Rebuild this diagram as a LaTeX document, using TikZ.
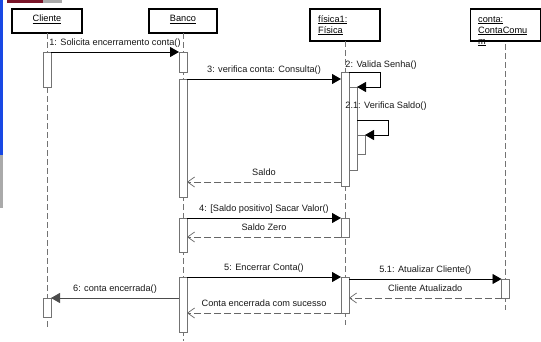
\documentclass[tikz,border=0pt]{standalone}
\usepackage{fontspec}
\setmainfont{Liberation Sans}
\usetikzlibrary{arrows.meta}
\definecolor{slideblue}{RGB}{24,72,228}
\definecolor{slidered}{RGB}{122,20,40}
\definecolor{slidegray}{RGB}{170,170,170}
\begin{document}
\begin{tikzpicture}[x=1pt,y=-1pt,
  font=\fontsize{9.2}{10}\selectfont,
  obj/.style={draw=black, line width=1.6pt, fill=white, inner sep=0pt, outer sep=0pt},
  act/.style={draw=black!55, fill=white, line width=0.9pt, minimum width=8pt, inner sep=0pt, outer sep=0pt},
  life/.style={draw=black!55, line width=1pt, dash pattern=on 6pt off 3pt},
  call/.style={draw=black, line width=0.9pt, -{Triangle[length=9pt,width=10pt]}},
  ret/.style={draw=black!60, line width=0.9pt, dash pattern=on 7pt off 3pt,
    -{Straight Barb[length=7pt,width=10pt,line width=0.7pt]}},
  lbl/.style={anchor=base, yshift=7pt, text=black!90, inner sep=0pt},
  selflbl/.style={anchor=base west, text=black!90, inner sep=0pt},
  head/.style={anchor=base, inner sep=0pt},
  headl/.style={anchor=base west, inner sep=0pt}
]
\useasboundingbox (0,0) rectangle (541,341);
\fill[white] (0,0) rectangle (541,341);

% slide edge strips
\fill[slideblue] (0,0) rectangle (3,155);
\fill[slidegray] (0,155) rectangle (3,208);
\fill[slidered] (7,0) rectangle (43,2.7);
\fill[slidegray] (43,0) rectangle (62,2.7);

% object heads
\node[obj, minimum width=70pt, minimum height=24pt] (cliente) at (47,21) {};
\node[head] (clienteT) at (47,21.5) {\underline{Cliente}};
\node[obj, minimum width=68pt, minimum height=24pt] (banco) at (183,21) {};
\node[head] (bancoT) at (183,21.5) {\underline{Banco}};
\node[obj, minimum width=70pt, minimum height=32pt] (fisica) at (345,25) {};
\node[headl] (fisicaT1) at (318,22) {\underline{física1:}};
\node[headl] (fisicaT2) at (318,33) {\underline{Física}};
\node[obj, minimum width=70pt, minimum height=32pt] (conta) at (505.5,25) {};
\node[headl] (contaT1) at (478,22) {\underline{conta:}};
\node[headl] (contaT2) at (478,33) {\underline{ContaComu}};
\node[headl] (contaT3) at (478,44) {\underline{m}};

% lifelines
\coordinate (clienteEnd) at (47,328);
\coordinate (bancoEnd) at (183,341);
\coordinate (fisicaEnd) at (345,325);
\coordinate (contaEnd) at (505.5,310);
\draw[life] (cliente.south) -- (clienteEnd);
\draw[life] (banco.south) -- (bancoEnd);
\draw[life] (fisica.south) -- (fisicaEnd);
\draw[life] ([yshift=-3pt]conta.south) -- (contaEnd);

% activation bars
\node[act, minimum height=35pt] (c1) at (47,69.5) {};
\node[act, minimum height=19pt] (c2) at (47,307.5) {};
\node[act, minimum height=20pt] (b1) at (183,62) {};
\node[act, minimum height=118pt] (b2) at (183,138) {};
\node[act, minimum height=34pt] (b3) at (183,235) {};
\node[act, minimum height=55pt] (b4) at (183,304.5) {};
\node[act, minimum height=114pt] (f1) at (345,129) {};
\node[act, minimum height=83pt] (f2) at (353,128.5) {};
\node[act, minimum height=19pt] (f3) at (361,144.5) {};
\node[act, minimum height=19pt] (f4) at (345,227.5) {};
\node[act, minimum height=36pt] (f5) at (345,295) {};
\node[act, minimum height=19pt] (k1) at (505.5,288.5) {};

% messages
\draw[call] (c1.north east) -- (b1.north west)
  node[lbl, midway] {1: Solicita encerramento conta()};
\draw[call] (b2.north east) -- (f1.west |- b2.north)
  node[lbl, midway] {3: verifica conta: Consulta()};
\draw[call] (f1.north east)
  node[selflbl, xshift=-4pt, yshift=4.5pt] {2: Valida Senha()}
  -- ++(31,0) |- (f2.north east);
\draw[call] ([yshift=-33pt]f2.north east)
  node[selflbl, xshift=-12pt, yshift=11.5pt] {2.1: Verifica Saldo()}
  -- ++(31,0) |- (f3.north east);
\draw[ret] ([yshift=4pt]f1.south west) coordinate (saldoStart) -- (b2.east |- saldoStart)
  node[lbl, midway] {Saldo};
\draw[call] (b3.north east) -- (f4.north west)
  node[lbl, midway] {4: [Saldo positivo] Sacar Valor()};
\draw[ret] (f4.south west) -- (b3.east |- f4.south west)
  node[lbl, midway] {Saldo Zero};
\draw[call] (b4.north east) -- (f5.north west)
  node[lbl, midway] {5: Encerrar Conta()};
\draw[call] (f5.east |- k1.north) -- (k1.north west)
  node[lbl, midway] {5.1: Atualizar Cliente()};
\draw[ret] (k1.south west) -- (f5.east |- k1.south west)
  node[lbl, midway] {Cliente Atualizado};
\draw[call, draw=black!70] (b4.west |- c2.north) -- (c2.north east)
  node[lbl, midway] {6: conta encerrada()};
\draw[ret] (f5.south west) -- (b4.east |- f5.south west)
  node[lbl, midway] {Conta encerrada com sucesso};
\end{tikzpicture}
\end{document}
